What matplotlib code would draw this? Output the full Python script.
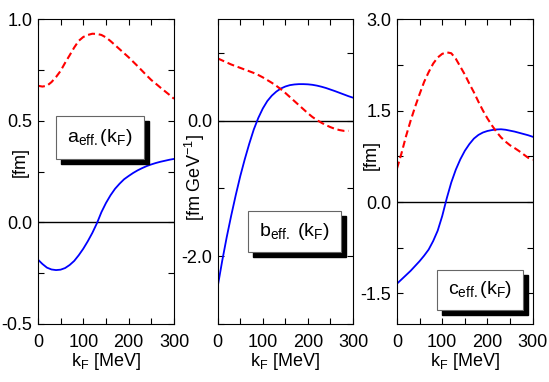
import numpy as np
import matplotlib.pyplot as plt
from matplotlib.patches import Rectangle
from matplotlib.ticker import MultipleLocator

plt.rcParams['font.family'] = ['Liberation Sans', 'DejaVu Sans']
plt.rcParams['mathtext.fontset'] = 'custom'
plt.rcParams['mathtext.rm'] = 'Liberation Sans'
plt.rcParams['mathtext.it'] = 'Liberation Sans'

# k_F grid in MeV
kF = np.arange(0, 301, 10)

# a_eff(k_F) [fm]
a_solid = [-0.183, -0.205, -0.223, -0.232, -0.235, -0.233, -0.225, -0.21, -0.19, -0.162,
           -0.13, -0.093, -0.052, -0.005, 0.05, 0.095, 0.133, 0.165, 0.19, 0.212,
           0.228, 0.243, 0.256, 0.267, 0.277, 0.285, 0.292, 0.298, 0.303, 0.308, 0.312]
a_dash = [0.672, 0.668, 0.672, 0.69, 0.715, 0.745, 0.785, 0.822, 0.86, 0.893,
          0.912, 0.922, 0.928, 0.927, 0.922, 0.91, 0.892, 0.872, 0.852, 0.832,
          0.812, 0.79, 0.768, 0.745, 0.722, 0.70, 0.682, 0.663, 0.645, 0.627, 0.608]

# b_eff(k_F) [fm GeV^-1]
b_solid = [-2.45, -2.07, -1.72, -1.40, -1.10, -0.82, -0.57, -0.34, -0.13, 0.04,
           0.18, 0.29, 0.37, 0.43, 0.475, 0.505, 0.525, 0.535, 0.54, 0.54,
           0.537, 0.53, 0.518, 0.502, 0.483, 0.46, 0.437, 0.412, 0.387, 0.362, 0.34]
b_dash = [0.92, 0.89, 0.86, 0.83, 0.805, 0.78, 0.755, 0.73, 0.705, 0.675,
          0.64, 0.60, 0.56, 0.515, 0.465, 0.41, 0.35, 0.29, 0.23, 0.17,
          0.11, 0.055, 0.01, -0.03, -0.065, -0.095, -0.12, -0.138, -0.15, -0.15]

# c_eff(k_F) [fm]
c_solid = [-1.34, -1.27, -1.20, -1.13, -1.05, -0.97, -0.88, -0.78, -0.64, -0.47,
           -0.23, 0.06, 0.32, 0.53, 0.70, 0.84, 0.95, 1.04, 1.10, 1.14,
           1.165, 1.18, 1.19, 1.193, 1.185, 1.17, 1.155, 1.135, 1.115, 1.095, 1.07]
c_dash = [0.55, 0.80, 1.08, 1.33, 1.56, 1.77, 1.97, 2.13, 2.27, 2.37,
          2.43, 2.455, 2.44, 2.35, 2.22, 2.09, 1.94, 1.80, 1.645, 1.50,
          1.37, 1.255, 1.15, 1.06, 0.99, 0.93, 0.885, 0.835, 0.78, 0.725, 0.69]

panels = [
    dict(pos=[0.069, 0.152, 0.248, 0.798], solid=a_solid, dash=a_dash,
         ylim=(-0.5, 1.0), major=0.5, minor=0.25, ylabel='[fm]', lab=(-0.066, 0.53),
         text=r'a$_{\rm eff.}$(k$_{\rm F}$)', box=(0.132, 0.542, 0.647, 0.140)),
    dict(pos=[0.3965, 0.152, 0.2465, 0.798], solid=b_solid, dash=b_dash,
         ylim=(-3.0, 1.5), major=2.0, minor=1.0, ylabel=r'[fm GeV$^{-1}$]', lab=(-0.079, 0.48),
         text=r'b$_{\rm eff.}$ (k$_{\rm F}$)', box=(0.226, 0.237, 0.685, 0.133)),
    dict(pos=[0.7231, 0.152, 0.2472, 0.798], solid=c_solid, dash=c_dash,
         ylim=(-2.0, 3.0), major=1.5, minor=0.75, ylabel='[fm]', lab=(-0.125, 0.554),
         text=r'c$_{\rm eff.}$(k$_{\rm F}$)', box=(0.297, 0.046, 0.629, 0.131)),
]

fig = plt.figure(figsize=(5.49, 3.82), dpi=100)

for p in panels:
    ax = fig.add_axes(p['pos'])
    ax.axhline(0, color='black', lw=1.0)
    ax.plot(kF, p['solid'], color='#0000ff', lw=1.3)
    ax.plot(kF[:len(p['dash'])], p['dash'], color='#ff0000', lw=1.5, dashes=(3.4, 1.8))
    ax.set_xlim(0, 300)
    ax.set_ylim(*p['ylim'])
    ax.xaxis.set_major_locator(MultipleLocator(100))
    ax.xaxis.set_minor_locator(MultipleLocator(50))
    ax.yaxis.set_major_locator(MultipleLocator(p['major']))
    ax.yaxis.set_minor_locator(MultipleLocator(p['minor']))
    ax.yaxis.set_major_formatter(lambda v, pos: f'{v:.1f}')
    ax.tick_params(which='both', direction='in', top=True, right=True,
                   length=4, width=0.8, labelsize=13)
    ax.tick_params(axis='x', pad=7)
    ax.tick_params(axis='y', pad=4)
    for s in ax.spines.values():
        s.set_linewidth(0.8)
    ax.set_xlabel(r'k$_{\rm F}$ [MeV]', fontsize=13, labelpad=0)
    ax.set_ylabel(p['ylabel'], fontsize=13)
    ax.yaxis.set_label_coords(*p['lab'])

    # label box with drop shadow
    bx, by, bw, bh = p['box']
    ax.add_patch(Rectangle((bx + 0.037, by - 0.0164), bw, bh, transform=ax.transAxes,
                           facecolor='black', edgecolor='black', zorder=5, clip_on=False))
    ax.add_patch(Rectangle((bx, by), bw, bh, transform=ax.transAxes,
                           facecolor='white', edgecolor='#666666', lw=0.8, zorder=6, clip_on=False))
    ax.text(bx + bw / 2, by + bh / 2, p['text'], transform=ax.transAxes,
            ha='center', va='center', fontsize=14, zorder=7)

fig.savefig('out.png', dpi=100)
